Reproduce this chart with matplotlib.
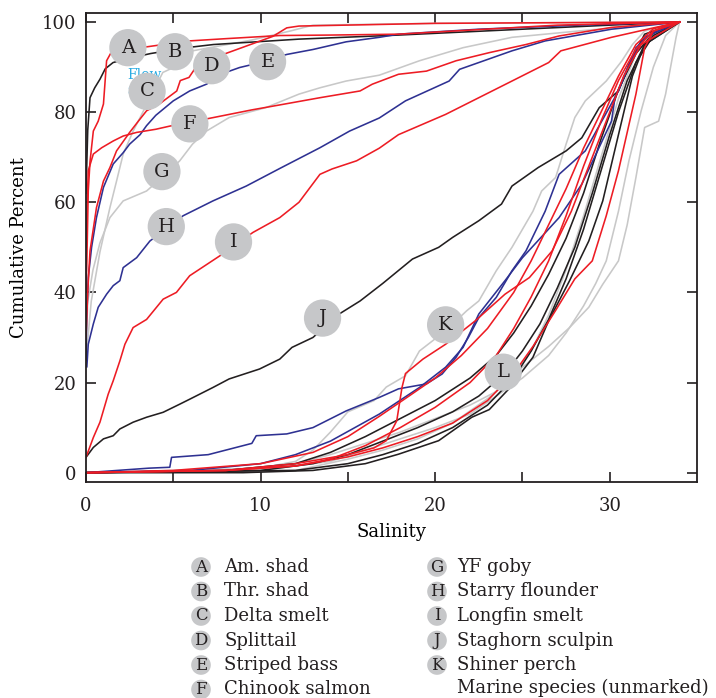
import matplotlib
matplotlib.use('Agg')
import matplotlib.pyplot as plt

plt.rcParams['font.family'] = 'DejaVu Serif'

# --- freshwater / estuarine species (marked A-K) ---
am_shad_sal = [0, 0.1, 0.23, 0.5, 0.8, 1.1, 1.55, 2.3, 3.7, 5.75, 7.3, 12.2, 17.9, 25, 30, 34]
am_shad_pct = [62, 76, 83.2, 85.4, 87.3, 89.6, 91, 91.8, 93, 94.3, 95, 96.2, 97.1, 98.4, 99.3, 100]

thr_shad_sal = [0, 0.05, 0.13, 0.23, 0.42, 0.7, 1.0, 1.18, 1.55, 2.5, 3.5, 5.9, 8, 11.1, 14, 17.9, 22, 27, 34]
thr_shad_pct = [40, 47, 62.5, 69, 75.8, 78, 81.8, 91.4, 94, 94.3, 94.5, 95.8, 96.3, 97, 97.1, 97.3, 98.2, 99.3, 100]

delta_smelt_sal = [0, 0.3, 0.8, 1.37, 1.75, 2.13, 2.7, 3.1, 4.4, 4.9, 6.1, 7.66, 9.5, 11.7, 13, 20, 34]
delta_smelt_pct = [25, 38, 49, 58.8, 64.7, 70.7, 75.8, 78.8, 88.8, 89.7, 93.6, 94.7, 96, 98, 99.3, 99.7, 100]

splittail_sal = [0, 0.1, 0.23, 0.6, 1.0, 1.37, 1.75, 2.5, 3.0, 3.47, 4.2, 5.2, 5.4, 5.9, 6.3, 8.0, 10.7, 11.5, 12.2, 20, 34]
splittail_pct = [30, 40, 49.2, 58.8, 64.7, 67.7, 71.4, 75.5, 78, 80.3, 81.8, 84.7, 87, 87.7, 90, 93, 96.8, 98.7, 99.1, 99.7, 100]

striped_bass_sal = [0, 0.04, 0.13, 0.32, 0.6, 1.0, 1.56, 2.13, 2.5, 3.1, 3.47, 4.0, 5.0, 5.94, 6.9, 8.0, 8.8, 9.56,
                    11.5, 13, 14.9, 16.8, 17.9, 22.5, 28.2, 34]
striped_bass_pct = [25, 34.4, 43.3, 50, 56.6, 63.3, 68.5, 71, 72.9, 75, 77, 79.3, 82.5, 84.7, 86.2, 88.8, 89.9, 90.6,
                    92.8, 93.9, 95.6, 96.6, 97.3, 98.4, 99.3, 100]

chinook_sal = [0, 0.05, 0.13, 0.42, 0.9, 1.56, 2.13, 2.9, 4.0, 4.8, 7.3, 9.5, 11.1, 13.4, 15.7, 16.4, 17.9, 19.5,
               21.2, 23.1, 25.2, 27.1, 30.1, 34]
chinook_pct = [50, 58, 67, 70.7, 72.1, 73.6, 74.7, 75.5, 76.2, 76.9, 78.8, 80.5, 81.6, 83.2, 84.7, 86.2, 88.4, 89.1,
               91.4, 93.2, 95, 96.9, 98.8, 100]

yf_goby_sal = [0, 0.1, 0.4, 0.8, 1.37, 2.13, 3.47, 4.5, 5.37, 6.1, 6.9, 8.2, 10.3, 12.2, 13.4, 14.9, 16.8, 19.1,
               21.6, 24.4, 28.2, 34]
yf_goby_pct = [28, 38, 45, 51, 56.6, 60.3, 62.5, 66, 69.2, 72.9, 75.8, 78.8, 81, 84, 85.4, 86.9, 88.2, 91.4,
               94.3, 96.6, 98, 100]

flounder_sal = [0.05, 0.13, 0.42, 0.7, 1.18, 1.56, 1.94, 2.13, 2.9, 3.66, 5.56, 7.27, 9.18, 11.1, 13.4, 15.1,
                16.8, 18.3, 20.8, 21.4, 24.4, 26.3, 30.1, 34]
flounder_pct = [23.5, 28.5, 33, 36.7, 39.6, 41.5, 42.6, 45.5, 47.7, 51.4, 57, 60.3, 63.6, 67.5, 72.1, 75.8,
                78.7, 82.5, 86.9, 89.5, 93.6, 95.8, 98.4, 100]

longfin_sal = [0, 0.42, 0.8, 1.27, 1.56, 1.94, 2.23, 2.7, 3.47, 4.42, 5.18, 5.94, 7.66, 9.56, 11.1, 12.2, 13.4,
               14.1, 15.5, 16.8, 17.9, 20.6, 22.5, 24.4, 26.5, 27.2, 30.1, 34]
longfin_pct = [3.4, 7.8, 11.2, 17.4, 20.4, 24.8, 28.5, 32.2, 34, 38.5, 40, 43.7, 48.1, 53.3, 56.6, 60, 66.2,
               67.4, 69.2, 72, 75, 79.5, 83.2, 86.9, 91, 93.6, 96.6, 100]

staghorn_sal = [0, 0.42, 1.0, 1.56, 1.94, 2.7, 3.47, 4.42, 5.37, 5.94, 7.27, 8.2, 9.94, 11.1, 11.8, 13.0, 14.5,
                15.7, 17.0, 18.7, 20.2, 21.0, 22.5, 23.8, 24.4, 25.9, 27.5, 28.4, 29.4, 30.5, 31.3, 32.0, 34]
staghorn_pct = [3.4, 5.6, 7.5, 8.2, 9.7, 11.2, 12.3, 13.4, 15.2, 16.3, 18.9, 20.8, 23, 25.2, 27.8, 30, 35.2,
                38.1, 42, 47.4, 50, 52.2, 55.9, 59.6, 63.6, 67.7, 71.4, 74.3, 81, 84.7, 92.1, 97.3, 100]

shiner_sal = [0, 5, 10, 12, 13, 14, 15, 16.5, 17.2, 18.3, 19.1, 20.6, 21.8, 22.5, 23.5, 24.4, 25.6, 26.1, 26.9,
              27.5, 28, 28.6, 29.8, 30.7, 31.3, 32, 34]
shiner_pct = [0, 0.5, 1, 2.5, 5, 9, 13.5, 16, 19, 21.5, 27, 31.5, 35.9, 38.1, 44.8, 50, 58, 62.5, 65.5,
              72.9, 78.8, 82.5, 86.9, 91.4, 95, 98, 100]

# --- marine species (unmarked) ---
red_v_sal = [0, 8, 12, 15, 16.5, 17.2, 17.8, 18.1, 18.3, 19.3, 20.6, 22.3, 24, 25.4, 26.7, 27.8, 28.8, 29.8,
             30.8, 31.8, 34]
red_v_pct = [0, 0.5, 2, 4, 5.5, 7.1, 11.5, 18.9, 22, 25.2, 28.5, 33.7, 39.6, 43.3, 49.2, 58, 68, 78,
             88, 95, 100]

blue_1_sal = [0, 3.6, 4.8, 4.9, 7, 9.5, 9.75, 11.5, 13, 14.9, 16.8, 17.9, 19.5, 20.4, 21.2, 21.9, 22.5, 23.5,
              24.4, 25.2, 26.3, 27.1, 28.6, 30.5, 31.5, 32.4, 34]
blue_1_pct = [0, 1, 1.2, 3.4, 4, 6.5, 8.2, 8.6, 10, 13.7, 16.7, 18.6, 19.7, 21.9, 25.6, 30, 34.4, 38.9,
              44.8, 49.2, 58, 66.2, 71.4, 84.7, 94.3, 97.6, 100]

blue_2_sal = [0, 6, 10, 12, 14, 16.8, 19.1, 20.6, 21.6, 22.5, 24, 25, 27.1, 28.4, 30.1, 30.3, 31.1, 32, 34]
blue_2_pct = [0, 0.5, 2, 4, 7, 13, 18.9, 23.4, 27.8, 35.2, 42.6, 47.7, 56.6, 64, 78, 83.2, 90.6, 96.6, 100]

red_2_sal = [0, 5, 10, 13, 15, 16.8, 18.5, 20, 21.5, 23, 24.5, 25.5, 26.5, 27.5, 28.5, 29.5, 30.5, 31.5, 32.5, 34]
red_2_pct = [0, 0.5, 2, 4.5, 8, 12.5, 17, 21, 26, 32, 40, 47, 55, 63, 72, 80, 88, 95, 98.5, 100]

red_3_sal = [0, 8, 12, 14, 16, 18, 20, 22, 23.5, 24.5, 25.5, 26.5, 27.5, 28.5, 29.5, 30.5, 31.5, 32.5, 34]
red_3_pct = [0, 0.5, 1.5, 3, 6, 10, 14.5, 20, 26, 32, 39, 47, 57, 68, 78, 87, 94, 98, 100]

red_4_sal = [0, 8, 12, 15, 17, 19, 21, 23, 24.5, 25.6, 26.9, 28, 29, 29.8, 30.5, 31.5, 32, 32.5, 34]
red_4_pct = [0, 0.5, 1.5, 3.5, 5.5, 8, 11, 16, 22, 28, 36, 43, 47, 57, 67, 84, 94.3, 98, 100]

black_1_sal = [0, 8, 12, 14, 16, 18, 20, 22, 23.5, 24.5, 25.5, 26.5, 27.5, 28.5, 29.5, 30.5, 31.5, 32.5, 34]
black_1_pct = [0, 0.5, 2, 4.5, 8, 12, 16, 21, 26, 31, 37, 44, 52, 62, 74, 85, 93, 97.5, 100]

black_2_sal = [0, 10, 13, 15, 17, 19, 21, 22.5, 24, 25, 26, 27, 28, 29, 30, 31, 32, 34]
black_2_pct = [0, 0.5, 2, 4, 7, 10, 13.5, 17, 22, 27, 33, 41, 50, 62, 75, 87, 95, 100]

black_3_sal = [0, 12, 15, 17, 19, 21, 23, 24.5, 25.5, 26.5, 27.5, 28.5, 29.5, 30.5, 31.5, 32.5, 34]
black_3_pct = [0, 0.5, 2, 4, 6.5, 10, 15, 21, 27, 34, 43, 54, 67, 80, 91, 97, 100]

black_4_sal = [0, 9, 13, 16, 17.9, 20.2, 22.1, 23.1, 24.2, 25.6, 26.5, 27.7, 28.8, 29.6, 30.5, 31.3, 32, 34]
black_4_pct = [0, 0, 0.5, 2, 4.1, 7.1, 12.3, 14, 18.5, 25.6, 33.7, 42.6, 51.4, 60.3, 75, 88, 95, 100]

gray_2_sal = [0, 8, 12, 14, 16, 18, 20, 22, 23.5, 24.5, 25.5, 26.5, 27.5, 28.5, 29.5, 30.5, 31.5, 32.5, 34]
gray_2_pct = [0, 0.5, 2, 4, 6.5, 9, 12, 15, 18, 22, 27, 35, 45, 57, 70, 83, 93, 98, 100]

gray_3_sal = [0, 10, 14, 16, 18, 20, 22, 23.5, 25, 26.5, 27.5, 28.5, 29.2, 29.8, 30.5, 31.1, 31.8, 32.5, 33.2, 34]
gray_3_pct = [0, 0.5, 2.5, 5, 7.5, 10, 13, 17, 21, 26, 31, 37, 42, 47, 58, 69.2, 80.3, 90, 97, 100]

gray_4_sal = [0, 12, 15, 17, 19, 21, 23.1, 25, 26.5, 27.7, 28.8, 29.6, 30.5, 31, 31.5, 32, 32.8, 33.2, 33.8, 34]
gray_4_pct = [0, 0.5, 3, 5, 7.5, 11, 16.7, 23.4, 28, 32.2, 36.7, 41.8, 47, 55, 65.5, 76.6, 78, 84, 96.6, 100]

# circle labels on the curves
label_letters = ['A', 'B', 'C', 'D', 'E', 'F', 'G', 'H', 'I', 'J', 'K', 'L']
label_sal = [2.4, 5.1, 3.5, 7.2, 10.4, 5.95, 4.35, 4.6, 8.45, 13.55, 20.6, 23.9]
label_pct = [94.3, 93.4, 84.6, 90.3, 91.2, 77.4, 66.8, 54.6, 51.2, 34.3, 32.8, 22.3]

legend_left = ['Am. shad', 'Thr. shad', 'Delta smelt', 'Splittail', 'Striped bass', 'Chinook salmon']
legend_right = ['YF goby', 'Starry flounder', 'Longfin smelt', 'Staghorn sculpin', 'Shiner perch']

RED = '#ed1c24'
BLUE = '#2e3192'
GREY = '#c8c8c8'
BLACK = '#231f20'
CIRC = '#c6c7c9'

fig = plt.figure(figsize=(7.16, 6.98), dpi=100)
ax = fig.add_axes([0.1201, 0.3099, 0.8534, 0.6715])

lw = 1.15
# grey curves first so the coloured ones sit on top
for s, p in [(delta_smelt_sal, delta_smelt_pct), (yf_goby_sal, yf_goby_pct), (shiner_sal, shiner_pct),
             (gray_2_sal, gray_2_pct), (gray_3_sal, gray_3_pct), (gray_4_sal, gray_4_pct)]:
    ax.plot(s, p, color=GREY, lw=lw, zorder=2)
for s, p in [(am_shad_sal, am_shad_pct), (staghorn_sal, staghorn_pct), (black_1_sal, black_1_pct),
             (black_2_sal, black_2_pct), (black_3_sal, black_3_pct), (black_4_sal, black_4_pct)]:
    ax.plot(s, p, color=BLACK, lw=lw, zorder=2.2)
for s, p in [(striped_bass_sal, striped_bass_pct), (flounder_sal, flounder_pct), (blue_1_sal, blue_1_pct),
             (blue_2_sal, blue_2_pct)]:
    ax.plot(s, p, color=BLUE, lw=lw, zorder=2.3)
for s, p in [(thr_shad_sal, thr_shad_pct), (splittail_sal, splittail_pct), (chinook_sal, chinook_pct),
             (longfin_sal, longfin_pct), (red_v_sal, red_v_pct), (red_2_sal, red_2_pct),
             (red_3_sal, red_3_pct), (red_4_sal, red_4_pct)]:
    ax.plot(s, p, color=RED, lw=lw, zorder=2.4)

# stray cyan text partly hidden under circle C
ax.text(2.35, 88.2, 'Flow', color='#29abe2', fontsize=10, zorder=2.5, va='center')
ax.text(2.35, 84.8, 's', color='#29abe2', fontsize=10, zorder=2.5, va='center')

ax.scatter(label_sal, label_pct, s=720, color=CIRC, edgecolors='none', zorder=3)
for l, s, p in zip(label_letters, label_sal, label_pct):
    ax.text(s, p, l, ha='center', va='center', fontsize=14, color=BLACK, zorder=4)

ax.set_xlim(0, 35)
ax.set_ylim(-2, 102)
ax.set_xticks([0, 5, 10, 15, 20, 25, 30])
ax.set_xticklabels(['0', '', '10', '', '20', '', '30'])
ax.set_yticks([0, 20, 40, 60, 80, 100])
ax.tick_params(direction='in', length=7, width=1.2, top=True, right=True, labelsize=13, colors=BLACK)
ax.tick_params(axis='x', pad=11)
ax.tick_params(axis='y', pad=7)
for sp in ax.spines.values():
    sp.set_linewidth(1.3)
    sp.set_color(BLACK)
ax.set_xlabel('Salinity', fontsize=13, labelpad=6)
ax.set_ylabel('Cumulative Percent', fontsize=13, labelpad=10)

# legend drawn in pixel space below the chart
lg = fig.add_axes([0, 0, 1, 1], zorder=-1)
lg.set_xlim(0, 716)
lg.set_ylim(698, 0)
lg.axis('off')
row_y = [567, 591.5, 616, 640.5, 665, 689.5]
for i, name in enumerate(legend_left):
    lg.scatter([201], [row_y[i]], s=200, color=CIRC, edgecolors='none')
    lg.text(201, row_y[i], label_letters[i], ha='center', va='center', fontsize=12, color=BLACK)
    lg.text(224, row_y[i], name, ha='left', va='center', fontsize=13, color=BLACK)
for i, name in enumerate(legend_right):
    lg.scatter([437], [row_y[i]], s=200, color=CIRC, edgecolors='none')
    lg.text(437, row_y[i], label_letters[i + 6], ha='center', va='center', fontsize=12, color=BLACK)
    lg.text(457, row_y[i], name, ha='left', va='center', fontsize=13, color=BLACK)
lg.text(457, row_y[5] - 2, 'Marine species (unmarked)', ha='left', va='center', fontsize=13, color=BLACK)

fig.savefig('out.png', dpi=100)
